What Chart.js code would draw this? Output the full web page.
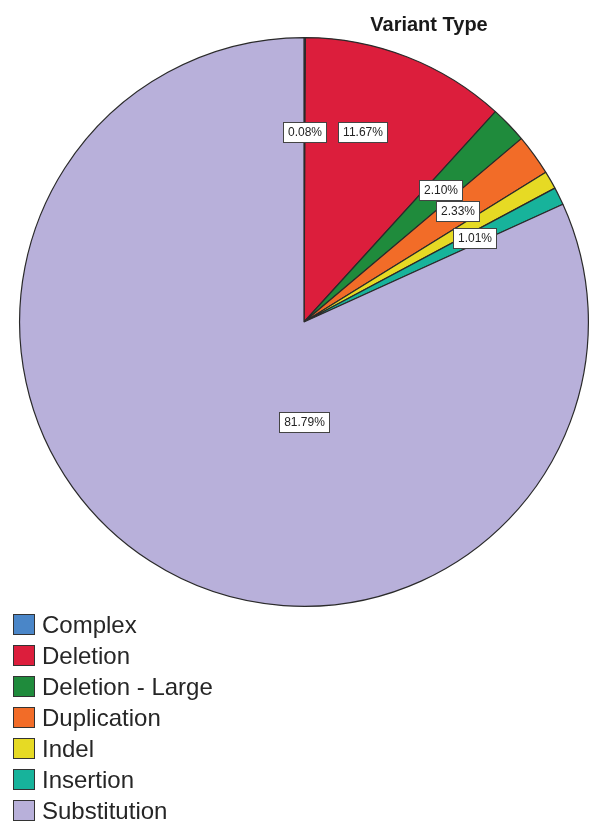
<!DOCTYPE html>
<html>
<head>
<meta charset="utf-8">
<script src="https://cdn.jsdelivr.net/npm/chart.js@4/dist/chart.umd.min.js"></script>
<style>
  html, body { margin: 0; padding: 0; background: #fff; }
  #wrap { position: relative; width: 590px; height: 824px; overflow: hidden; font-family: 'Liberation Sans', Arial, sans-serif; }
  #chart-box { position: absolute; left: 0; top: 0; width: 590px; height: 612px; }
  #title { position: absolute; left: 329px; top: 14px; width: 200px; text-align: center;
    font-weight: bold; font-size: 20px; line-height: 20px; color: #1a1a1a; }
  #legend { position: absolute; left: 13px; top: 609px; margin: 0; padding: 0; list-style: none; }
  #legend li { display: flex; align-items: center; height: 31px; font-size: 24px; color: #262626; }
  #legend .sw { width: 20px; height: 19px; border: 1.5px solid #333; margin-right: 7px; }
</style>
</head>
<body>
<div id="wrap">
  <div id="chart-box"><canvas id="chart-variant-type"></canvas></div>
  <div id="title">Variant Type</div>
  <ul id="legend"></ul>
</div>
<script>
// 변이 유형 데이터
const CATEGORIES = ['Complex', 'Deletion', 'Deletion - Large', 'Duplication', 'Indel', 'Insertion', 'Substitution'];
const PERCENTS = [0.08, 11.67, 2.10, 2.33, 1.02, 1.01, 81.79];
const SLICE_COLORS = ['#4a86c8', '#dc1e3c', '#1f8b3c', '#f26c28', '#e6da24', '#17b39b', '#b8b0da'];

/** 조각 위 퍼센트 라벨 (흰 박스) */
const boxLabels = {
  id: 'boxLabels',
  afterDatasetsDraw(chart, args, opts) {
    const ctx = chart.ctx;
    const meta = chart.getDatasetMeta(0);
    ctx.save();
    ctx.font = '12px "Liberation Sans", Arial, sans-serif';
    ctx.textAlign = 'center';
    ctx.textBaseline = 'middle';
    meta.data.forEach((arc, i) => {
      if (opts.hidden.includes(i)) return;
      const p = arc.getProps(['x', 'y', 'startAngle', 'endAngle', 'outerRadius'], true);
      const o = opts.overrides[i] || {};
      const ang = o.deg !== undefined ? (o.deg - 90) * Math.PI / 180 : (p.startAngle + p.endAngle) / 2;
      const r = p.outerRadius * (o.r || opts.radius);
      const cx = p.x + Math.cos(ang) * r;
      const cy = p.y + Math.sin(ang) * r;
      const text = PERCENTS[i].toFixed(2) + '%';
      const w = Math.round(ctx.measureText(text).width + 9);
      const h = 20;
      const bx = Math.round(cx - w / 2);
      const by = Math.round(cy - h / 2);
      ctx.fillStyle = '#ffffff';
      ctx.fillRect(bx, by, w, h);
      ctx.strokeStyle = '#444';
      ctx.lineWidth = 1;
      ctx.strokeRect(bx + 0.5, by + 0.5, w, h);
      ctx.fillStyle = '#222';
      ctx.fillText(text, bx + w / 2 + 0.5, by + h / 2 + 1);
    });
    ctx.restore();
  },
};

/** HTML 범례 */
const htmlLegend = {
  id: 'htmlLegend',
  afterUpdate(chart) {
    const ul = document.getElementById('legend');
    ul.innerHTML = '';
    const items = chart.options.plugins.legend.labels.generateLabels(chart);
    items.forEach((item) => {
      const li = document.createElement('li');
      const sw = document.createElement('span');
      sw.className = 'sw';
      sw.style.background = item.fillStyle;
      const tx = document.createElement('span');
      tx.textContent = item.text;
      li.appendChild(sw);
      li.appendChild(tx);
      ul.appendChild(li);
    });
  },
};

new Chart(document.getElementById('chart-variant-type'), {
  type: 'pie',
  data: {
    labels: CATEGORIES,
    datasets: [{
      data: PERCENTS,
      backgroundColor: SLICE_COLORS,
      borderColor: '#2a2a2a',
      borderWidth: 1.2,
    }],
  },
  options: {
    responsive: true,
    maintainAspectRatio: false,
    animation: false,
    layout: { padding: { top: 37, left: 18, right: 0, bottom: 5 } },
    plugins: {
      legend: { display: false },
      tooltip: { enabled: false },
      boxLabels: {
        radius: 0.667,
        hidden: [4],
        overrides: {
          0: { deg: 0, r: 0.667 },
          1: { deg: 17, r: 0.7 },
          6: { deg: 180, r: 0.35 },
        },
      },
    },
  },
  plugins: [boxLabels, htmlLegend],
});
</script>
</body>
</html>
